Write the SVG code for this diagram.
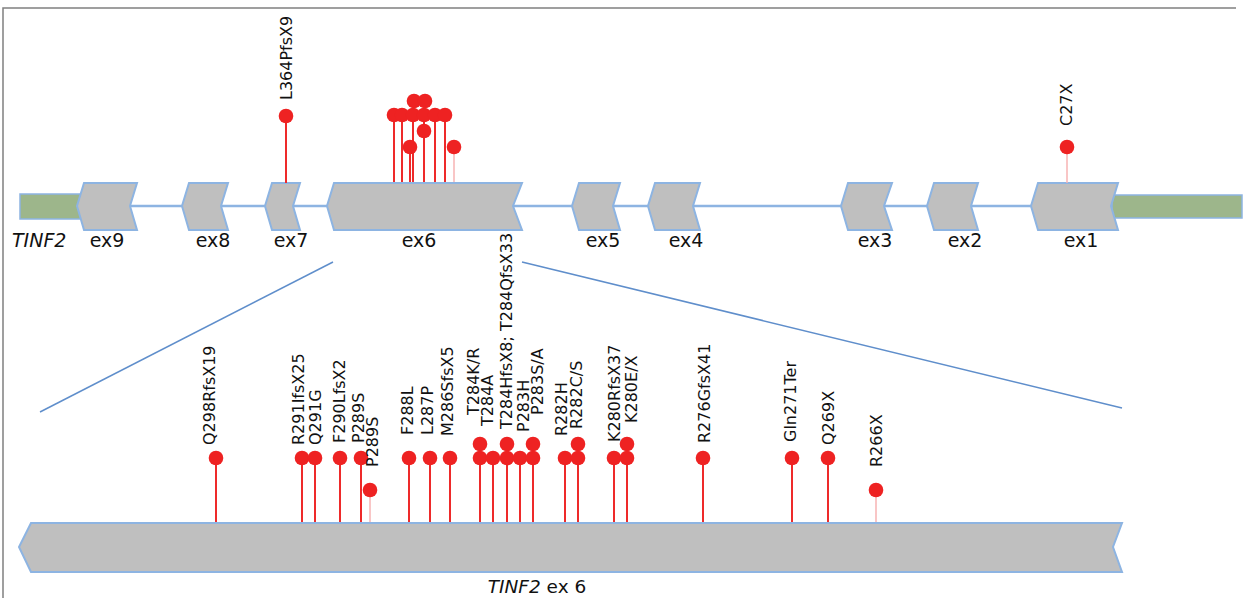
<svg xmlns="http://www.w3.org/2000/svg" width="1248" height="598" viewBox="0 0 1248 598">
<style>
.ex{fill:#bfbfbf;stroke:#8db4e2;stroke-width:2;stroke-linejoin:miter}
.utr{fill:#9db68b;stroke:#8db4e2;stroke-width:1.5}
.bb{stroke:#8db4e2;stroke-width:2.5;fill:none}
.zl{stroke:#5f8ecb;stroke-width:1.5;fill:none}
.st{stroke:#ee2a2a;stroke-width:2}
.sf{stroke:#f7b3b3;stroke-width:1.5}
.dot{fill:#ee2222}
.lbl{font-family:"DejaVu Sans",sans-serif;font-size:16px;fill:#111}
.exl{font-family:"DejaVu Sans",sans-serif;font-size:19px;fill:#111;text-anchor:middle}
.it{font-style:italic}
</style>
<path d="M3,598 V8 H1236" fill="none" stroke="#808080" stroke-width="1.5"/>

<g id="connectors">
<line class="bb" x1="130" y1="206" x2="1031" y2="206"/>
<line class="zl" x1="333" y1="262" x2="40" y2="412"/>
<line class="zl" x1="522" y1="262" x2="1122" y2="408"/>
</g>

<g id="gene">
<rect class="utr" x="20" y="194" width="62" height="25"/>
<rect class="utr" x="1112" y="195" width="130" height="23"/>
<text class="exl it" x="12" y="247" style="text-anchor:start">TINF2</text>
</g>

<g id="ex9"><polygon class="ex" points="84,183 137,183 130,206 137,230 84,230 77,206"/><text class="exl" x="107" y="247">ex9</text></g>
<g id="ex8"><polygon class="ex" points="189,183 228,183 221,206 228,230 189,230 182,206"/><text class="exl" x="213" y="247">ex8</text></g>
<g id="ex7"><polygon class="ex" points="272,183 300,183 293,206 300,230 272,230 265,206"/><text class="exl" x="291" y="247">ex7</text></g>
<g id="ex6"><polygon class="ex" points="334,183 522,183 513,206 522,230 334,230 327,206"/><text class="exl" x="419" y="247">ex6</text></g>
<g id="ex5"><polygon class="ex" points="579,183 620,183 613,206 620,230 579,230 572,206"/><text class="exl" x="603" y="247">ex5</text></g>
<g id="ex4"><polygon class="ex" points="655,183 700,183 693,206 700,230 655,230 648,206"/><text class="exl" x="686" y="247">ex4</text></g>
<g id="ex3"><polygon class="ex" points="848,183 892,183 884,206 892,230 848,230 841,206"/><text class="exl" x="875" y="247">ex3</text></g>
<g id="ex2"><polygon class="ex" points="934,183 978,183 971,206 978,230 934,230 927,206"/><text class="exl" x="965" y="247">ex2</text></g>
<g id="ex1"><polygon class="ex" points="1038,183 1118,183 1111,206 1118,230 1038,230 1031,206"/><text class="exl" x="1081" y="247">ex1</text></g>

<g id="top-mutations">
<line class="st" x1="286" y1="116" x2="286" y2="183"/><circle class="dot" cx="286" cy="116" r="7.3"/>
<text class="lbl" transform="translate(291.5,100) rotate(-90)">L364PfsX9</text>
<line class="sf" x1="1067" y1="147" x2="1067" y2="183"/><circle class="dot" cx="1067" cy="147" r="7.3"/>
<text class="lbl" transform="translate(1072,126) rotate(-90)">C27X</text>
<line class="st" x1="394" y1="115" x2="394" y2="182"/>
<line class="st" x1="402" y1="115" x2="402" y2="182"/>
<line class="st" x1="410" y1="147" x2="410" y2="182"/>
<line class="st" x1="413" y1="115" x2="413" y2="182"/>
<line class="st" x1="424" y1="115" x2="424" y2="182"/>
<line class="st" x1="435" y1="115" x2="435" y2="182"/>
<line class="st" x1="445" y1="115" x2="445" y2="182"/>
<line class="sf" x1="454" y1="147" x2="454" y2="182"/>
<circle class="dot" cx="394" cy="115" r="7.3"/>
<circle class="dot" cx="402" cy="115" r="7.3"/>
<circle class="dot" cx="413" cy="115" r="7.3"/>
<circle class="dot" cx="424" cy="115" r="7.3"/>
<circle class="dot" cx="435" cy="115" r="7.3"/>
<circle class="dot" cx="445" cy="115" r="7.3"/>
<circle class="dot" cx="414" cy="101" r="7.3"/>
<circle class="dot" cx="425" cy="101" r="7.3"/>
<circle class="dot" cx="424" cy="131" r="7.3"/>
<circle class="dot" cx="410" cy="147" r="7.3"/>
<circle class="dot" cx="454" cy="147" r="7.3"/>
</g>

<g id="ex6-detail">
<polygon class="ex" points="31,523 1122,523 1113,547 1122,572 31,572 19,547"/>
<text x="537" y="593" style="font-family:'DejaVu Sans',sans-serif;font-size:18.5px;fill:#111;text-anchor:middle"><tspan font-style="italic">TINF2</tspan> ex 6</text>
</g>

<g id="ex6-mutations">
<g class="st">
<line x1="216" y1="458" x2="216" y2="522"/>
<line x1="302" y1="458" x2="302" y2="522"/>
<line x1="315" y1="458" x2="315" y2="522"/>
<line x1="340" y1="458" x2="340" y2="522"/>
<line x1="361" y1="458" x2="361" y2="522"/>
<line x1="409" y1="458" x2="409" y2="522"/>
<line x1="430" y1="458" x2="430" y2="522"/>
<line x1="450" y1="458" x2="450" y2="522"/>
<line x1="480" y1="458" x2="480" y2="522"/>
<line x1="493" y1="458" x2="493" y2="522"/>
<line x1="507" y1="458" x2="507" y2="522"/>
<line x1="520" y1="458" x2="520" y2="522"/>
<line x1="533" y1="458" x2="533" y2="522"/>
<line x1="565" y1="458" x2="565" y2="522"/>
<line x1="578" y1="458" x2="578" y2="522"/>
<line x1="614" y1="458" x2="614" y2="522"/>
<line x1="627" y1="458" x2="627" y2="522"/>
<line x1="703" y1="458" x2="703" y2="522"/>
<line x1="792" y1="458" x2="792" y2="522"/>
<line x1="828" y1="458" x2="828" y2="522"/>
</g>
<line class="sf" x1="370" y1="490" x2="370" y2="522"/>
<line class="sf" x1="876" y1="490" x2="876" y2="522"/>
<g class="dot">
<circle cx="216" cy="458" r="7.3"/>
<circle cx="302" cy="458" r="7.3"/>
<circle cx="315" cy="458" r="7.3"/>
<circle cx="340" cy="458" r="7.3"/>
<circle cx="361" cy="458" r="7.3"/>
<circle cx="370" cy="490" r="7.3"/>
<circle cx="409" cy="458" r="7.3"/>
<circle cx="430" cy="458" r="7.3"/>
<circle cx="450" cy="458" r="7.3"/>
<circle cx="480" cy="444" r="7.3"/>
<circle cx="480" cy="458" r="7.3"/>
<circle cx="493" cy="458" r="7.3"/>
<circle cx="507" cy="444" r="7.3"/>
<circle cx="507" cy="458" r="7.3"/>
<circle cx="520" cy="458" r="7.3"/>
<circle cx="533" cy="444" r="7.3"/>
<circle cx="533" cy="458" r="7.3"/>
<circle cx="565" cy="458" r="7.3"/>
<circle cx="578" cy="444" r="7.3"/>
<circle cx="578" cy="458" r="7.3"/>
<circle cx="614" cy="458" r="7.3"/>
<circle cx="627" cy="444" r="7.3"/>
<circle cx="627" cy="458" r="7.3"/>
<circle cx="703" cy="458" r="7.3"/>
<circle cx="792" cy="458" r="7.3"/>
<circle cx="828" cy="458" r="7.3"/>
<circle cx="876" cy="490" r="7.3"/>
</g>
<g class="lbl">
<text transform="translate(215,445) rotate(-90)">Q298RfsX19</text>
<text transform="translate(304,445) rotate(-90)">R291IfsX25</text>
<text transform="translate(321,445) rotate(-90)">Q291G</text>
<text transform="translate(345,443) rotate(-90)">F290LfsX2</text>
<text transform="translate(364,443) rotate(-90)">P289S</text>
<text transform="translate(378,467) rotate(-90)">P289S</text>
<text transform="translate(413,435) rotate(-90)">F288L</text>
<text transform="translate(433,435) rotate(-90)">L287P</text>
<text transform="translate(453,436) rotate(-90)">M286SfsX5</text>
<text transform="translate(479,415) rotate(-90)">T284K/R</text>
<text transform="translate(493,426) rotate(-90)">T284A</text>
<text transform="translate(512,429) rotate(-90)">T284HfsX8; T284QfsX33</text>
<text transform="translate(529,432) rotate(-90)">P283H</text>
<text transform="translate(543,415) rotate(-90)">P283S/A</text>
<text transform="translate(567,436) rotate(-90)">R282H</text>
<text transform="translate(582,429) rotate(-90)">R282C/S</text>
<text transform="translate(620,442) rotate(-90)">K280RfsX37</text>
<text transform="translate(637,423) rotate(-90)">K280E/X</text>
<text transform="translate(710,443) rotate(-90)">R276GfsX41</text>
<text transform="translate(796,442) rotate(-90)">Gln271Ter</text>
<text transform="translate(834,445) rotate(-90)">Q269X</text>
<text transform="translate(882,467) rotate(-90)">R266X</text>
</g>
</g>
</svg>
